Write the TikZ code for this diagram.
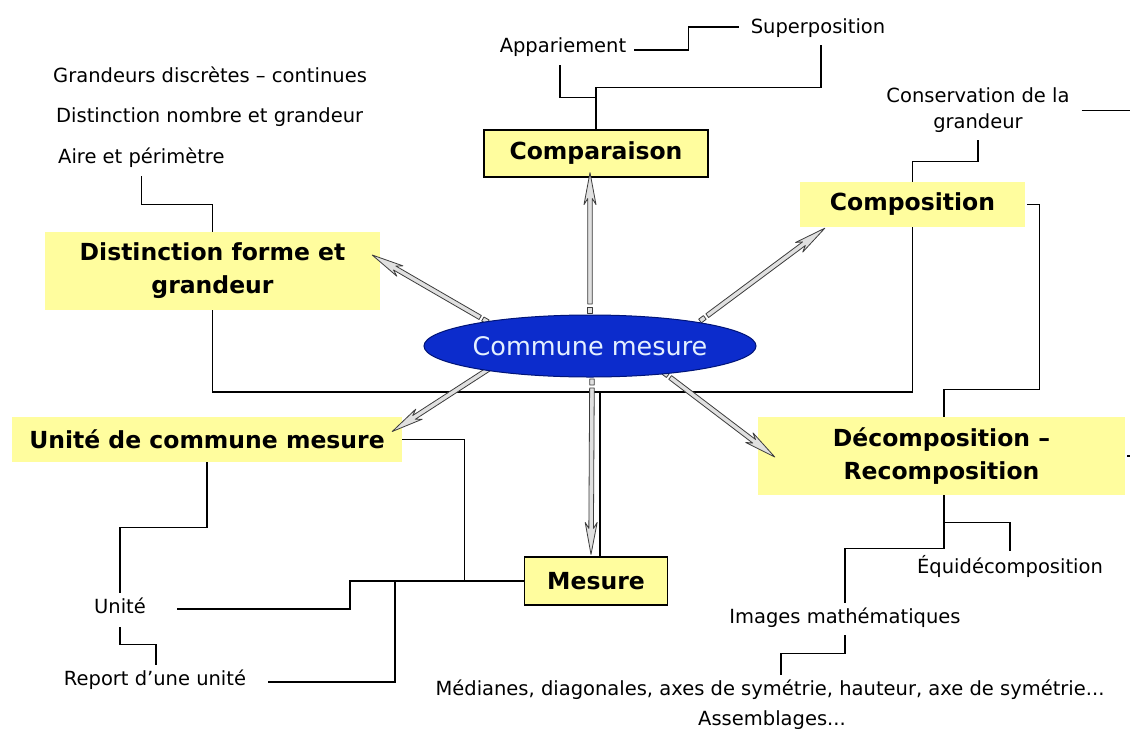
\documentclass[tikz,border=0pt]{standalone}
\usepackage{fontspec}
\setmainfont{DejaVu Sans}
\usetikzlibrary{calc,shapes.geometric}

\definecolor{boxyellow}{RGB}{255,253,158}
\definecolor{ovalblue}{RGB}{12,44,204}
\definecolor{ovaledge}{RGB}{0,20,120}
\definecolor{ovaltext}{RGB}{228,240,255}
\definecolor{shaftgrey}{RGB}{224,224,224}
\definecolor{shaftline}{RGB}{60,60,60}

\tikzset{
  leaf/.style={inner sep=4pt, font=\fontsize{19.5}{26}\selectfont, align=center},
  topic/.style={fill=boxyellow, inner sep=0pt, align=center,
                font=\bfseries\fontsize{23.5}{33}\selectfont},
  framed/.style={draw=black, line width=1.2pt},
  link/.style={draw=black, line width=1.3pt},
  arrowbody/.style={draw=shaftline, fill=shaftgrey, line width=0.8pt, line join=round},
}

% hollow grey arrow: short tail piece, gap, shaft and barbed head
\newcommand{\gaugearrow}[2]{%
  \coordinate (ga-s) at #1;
  \coordinate (ga-e) at #2;
  \coordinate (ga-a) at ($(ga-s)!6pt!(ga-e)$);
  \coordinate (ga-b) at ($(ga-s)!9pt!(ga-e)$);
  \coordinate (ga-c) at ($(ga-e)!26pt!(ga-s)$);
  \coordinate (ga-d) at ($(ga-e)!32pt!(ga-s)$);
  \draw[arrowbody] ($(ga-s)!2.3pt!90:(ga-e)$) -- ($(ga-a)!2.3pt!90:(ga-e)$)
    -- ($(ga-a)!2.3pt!-90:(ga-e)$) -- ($(ga-s)!2.3pt!-90:(ga-e)$) -- cycle;
  \draw[arrowbody] ($(ga-b)!2.3pt!90:(ga-e)$) -- ($(ga-c)!2.3pt!90:(ga-e)$)
    -- ($(ga-d)!6pt!90:(ga-e)$) -- (ga-e) -- ($(ga-d)!6pt!-90:(ga-e)$)
    -- ($(ga-c)!2.3pt!-90:(ga-e)$) -- ($(ga-b)!2.3pt!-90:(ga-e)$) -- cycle;
}

\begin{document}
\begin{tikzpicture}[x=1pt, y=-1pt]
  \fill[white] (0,0) rectangle (1130,729);
  \useasboundingbox (0,0) rectangle (1130,729);
  \coordinate (edgeR) at (1130,0);

  % small labels
  \node[leaf, anchor=base] (sup) at (818,33) {Superposition};
  \node[leaf, anchor=base] (app) at (563,52) {Appariement};
  \node[leaf, anchor=base west] (gdc) at (49,82) {Grandeurs discrètes – continues};
  \node[leaf, anchor=base west] (dng) at (52,122) {Distinction nombre et grandeur};
  \node[leaf, anchor=base west] (aire) at (54,163) {Aire et périmètre};
  \node[leaf] (cons) at (978,110.5) {Conservation de la\\grandeur};
  \node[leaf, anchor=base] (unite) at (120,613) {Unité};
  \node[leaf, anchor=base] (rep) at (155,685) {Report d’une unité};
  \node[leaf, anchor=base] (equi) at (1010,573) {Équidécomposition};
  \node[leaf, anchor=base] (img) at (845,623) {Images mathématiques};
  \node[leaf, anchor=base] (med) at (770,695) {Médianes, diagonales, axes de symétrie, hauteur, axe de symétrie...};
  \node[leaf, anchor=base] (asm) at (772,725) {Assemblages...};

  % yellow topic boxes
  \node[topic, framed, minimum width=224pt, minimum height=47pt] (cmp) at (596,153.5) {Comparaison};
  \node[topic, minimum width=225pt, minimum height=45pt] (cps) at (912.5,204.5) {Composition};
  \node[topic, minimum width=335pt, minimum height=78pt] (dist) at (212.5,271) {Distinction forme et\\grandeur};
  \node[topic, minimum width=390pt, minimum height=45pt] (ucm) at (207,439.5) {Unité de commune mesure};
  \node[topic, minimum width=367pt, minimum height=78pt] (dec) at (941.5,456) {Décomposition –\\Recomposition};
  \node[topic, framed, minimum width=143pt, minimum height=48pt] (mes) at (596,581) {Mesure};

  \coordinate (hub) at (600,392);

  % tree connectors
  \draw[link] ($(app.base east)+(4,-2)$) -- ++(54,0) |- ($(sup.base west)+(-8,-6)$);
  \draw[link] (cmp.north) -- ++(0,-42) -| ($(sup.base)+(3,12)$);
  \draw[link] ($(app.base)+(-3,13)$) |- ($(cmp.north)+(0,-32)$);
  \draw[link] ($(cons.east)+(8,0)$) -- (cons.east -| edgeR);
  \draw[link] ($(cons.south)+(0,3)$) |- ($(cps.north)+(0,-20)$) -- (cps.north);
  \draw[link] ($(cps.east)+(2,0)$) -- ++(12,0) |- ($(dec.north)+(2.5,-27)$) -- ($(dec.north)+(2.5,0)$);
  \draw[link] (cps.south) |- (hub);
  \draw[link] ($(aire.south)+(0,5)$) |- ($(dist.north)+(0,-27)$) -- (dist.north);
  \draw[link] (dist.south) |- (hub) -- (hub |- mes.north);
  \draw[link] (ucm.east) -- ++(62,0) |- (mes.west);
  \draw[link] (ucm.south) -- ++(0,65) -| (unite.north);
  \draw[link] ($(unite.base east)+(27,-4)$) -| ($(mes.west)+(-174,0)$) -- (mes.west);
  \draw[link] ($(rep.base east)+(18,-3)$) -| ($(mes.west)+(-129,0)$);
  \draw[link] ($(unite.south)+(0,10)$) -- ++(0,17) -| ($(rep.north)+(1,0)$);
  \draw[link] ($(dec.south)+(2.5,0)$) -- ++(0,27) -| (equi.north);
  \draw[link] ($(dec.south)+(2.5,27)$) -- ++(0,26) -| (img.north);
  \draw[link] ($(img.south)+(0,4)$) -- ++(0,18) -| ($(med.north)+(11,0)$);
  \draw[link] ($(dec.east)+(2,0)$) -- (dec.east -| edgeR);

  % centre node and its arrows
  \coordinate (cmc) at (590,346);
  \gaugearrow{($(cmc)+(0,-33)$)}{($(cmp.south)+(-6,-5)$)}
  \gaugearrow{($(cmc)+(-102,-24)$)}{($(dist.east)+(-8,-16)$)}
  \gaugearrow{($(cmc)+(110,-25)$)}{($(cps.south west)+(25,1)$)}
  \gaugearrow{($(cmc)+(-92,17)$)}{($(ucm.east)+(-10,-8)$)}
  \gaugearrow{($(cmc)+(73,26)$)}{($(dec.west)+(17,1)$)}
  \gaugearrow{($(cmc)+(2,33)$)}{($(mes.north)+(-5,-2)$)}

  \node[ellipse, minimum width=294pt, minimum height=62pt, inner sep=0pt,
        fill=ovalblue, draw=ovaledge, line width=1pt, text=ovaltext,
        font=\fontsize{25.5}{30}\selectfont] (cm) at (cmc) {Commune mesure};
\end{tikzpicture}
\end{document}
